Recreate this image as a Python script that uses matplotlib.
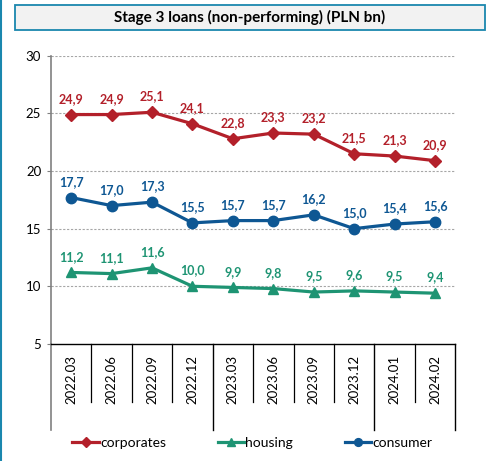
import numpy as np
import matplotlib
matplotlib.use("Agg")
import matplotlib.pyplot as plt
from matplotlib.patches import Rectangle
from matplotlib.lines import Line2D

# --- Data ---
periods = ["2022.03", "2022.06", "2022.09", "2022.12", "2023.03",
           "2023.06", "2023.09", "2023.12", "2024.01", "2024.02"]
corporates = [24.9, 24.9, 25.1, 24.1, 22.8, 23.3, 23.2, 21.5, 21.3, 20.9]
housing = [11.2, 11.1, 11.6, 10.0, 9.9, 9.8, 9.5, 9.6, 9.5, 9.4]
consumer = [17.7, 17.0, 17.3, 15.5, 15.7, 15.7, 16.2, 15.0, 15.4, 15.6]
year_breaks = [-0.5, 3.5, 7.5, 9.5]  # boundaries between years on the category axis

plt.rcParams['font.family'] = ['Lato', 'DejaVu Sans']

RED = '#B3202A'
GREEN = '#1E9473'
BLUE = '#0E5793'

fig = plt.figure(figsize=(4.9, 4.61), dpi=100)
ax = fig.add_axes([0.104, 0.254, 0.825, 0.625])

x = np.arange(len(periods))
series = [
    (corporates, RED, 'D', 6.5, 'corporates'),
    (housing, GREEN, '^', 7.5, 'housing'),
    (consumer, BLUE, 'o', 7.5, 'consumer'),
]
for vals, col, mk, ms, name in series:
    ax.plot(x, vals, color=col, lw=2.3, marker=mk, markersize=ms, label=name, zorder=3)
    for xi, v in zip(x, vals):
        ax.annotate(f"{v:.1f}".replace('.', ','), (xi, v), xytext=(0, 7),
                    textcoords='offset points', ha='center', va='bottom',
                    fontsize=9, fontweight='bold', color=col)

ax.set_xlim(-0.5, len(periods) - 0.5)
ax.set_ylim(5, 30)
ax.set_yticks([5, 10, 15, 20, 25, 30])
ax.tick_params(axis='y', labelsize=9.5, length=3, color='#808080', pad=4)
ax.set_xticks([])
for yv in [10, 15, 20, 25, 30]:
    ax.axhline(yv, color='#A6A6A6', lw=0.8, ls=(0, (2, 1.5)), zorder=1)

for s in ['top', 'right']:
    ax.spines[s].set_visible(False)
ax.spines['left'].set_color('#808080')
ax.spines['left'].set_linewidth(1.2)
ax.spines['bottom'].set_color('black')
ax.spines['bottom'].set_linewidth(1.0)

# category labels and separators below the axis
trans = ax.get_xaxis_transform()
for xi, lab in zip(x, periods):
    ax.text(xi, -0.038, lab, transform=trans, rotation=90, ha='center', va='top',
            fontsize=9.5)
for i in range(len(periods) - 1):
    b = i + 0.5
    if b in year_breaks:
        continue
    ax.plot([b, b], [0, -0.2], transform=trans, color='black', lw=0.9, clip_on=False)
for b in year_breaks:
    first = b == year_breaks[0]
    ax.plot([b, b], [0, -0.3], transform=trans, color='#808080' if first else 'black',
            lw=1.2 if first else 1.0, clip_on=False)

# title box
fig.patches.append(Rectangle((0.031, 0.935), 0.958, 0.054, transform=fig.transFigure,
                             facecolor='#F2F2F2', edgecolor='#1A87AE', lw=1.3))
fig.text(0.51, 0.962, "Stage 3 loans (non-performing) (PLN bn)", ha='center', va='center',
         fontsize=11, fontweight='bold')

# frame line on the left
fig.add_artist(Line2D([0.003, 0.003], [0, 1], transform=fig.transFigure,
                      color='#1A87AE', lw=1.5))

fig.legend(loc='center', bbox_to_anchor=(0.515, 0.039), ncol=3, frameon=False,
           fontsize=10, handlelength=1.9, handletextpad=0.1, columnspacing=3.7,
           markerscale=0.75)

fig.savefig("out.png", dpi=100)
